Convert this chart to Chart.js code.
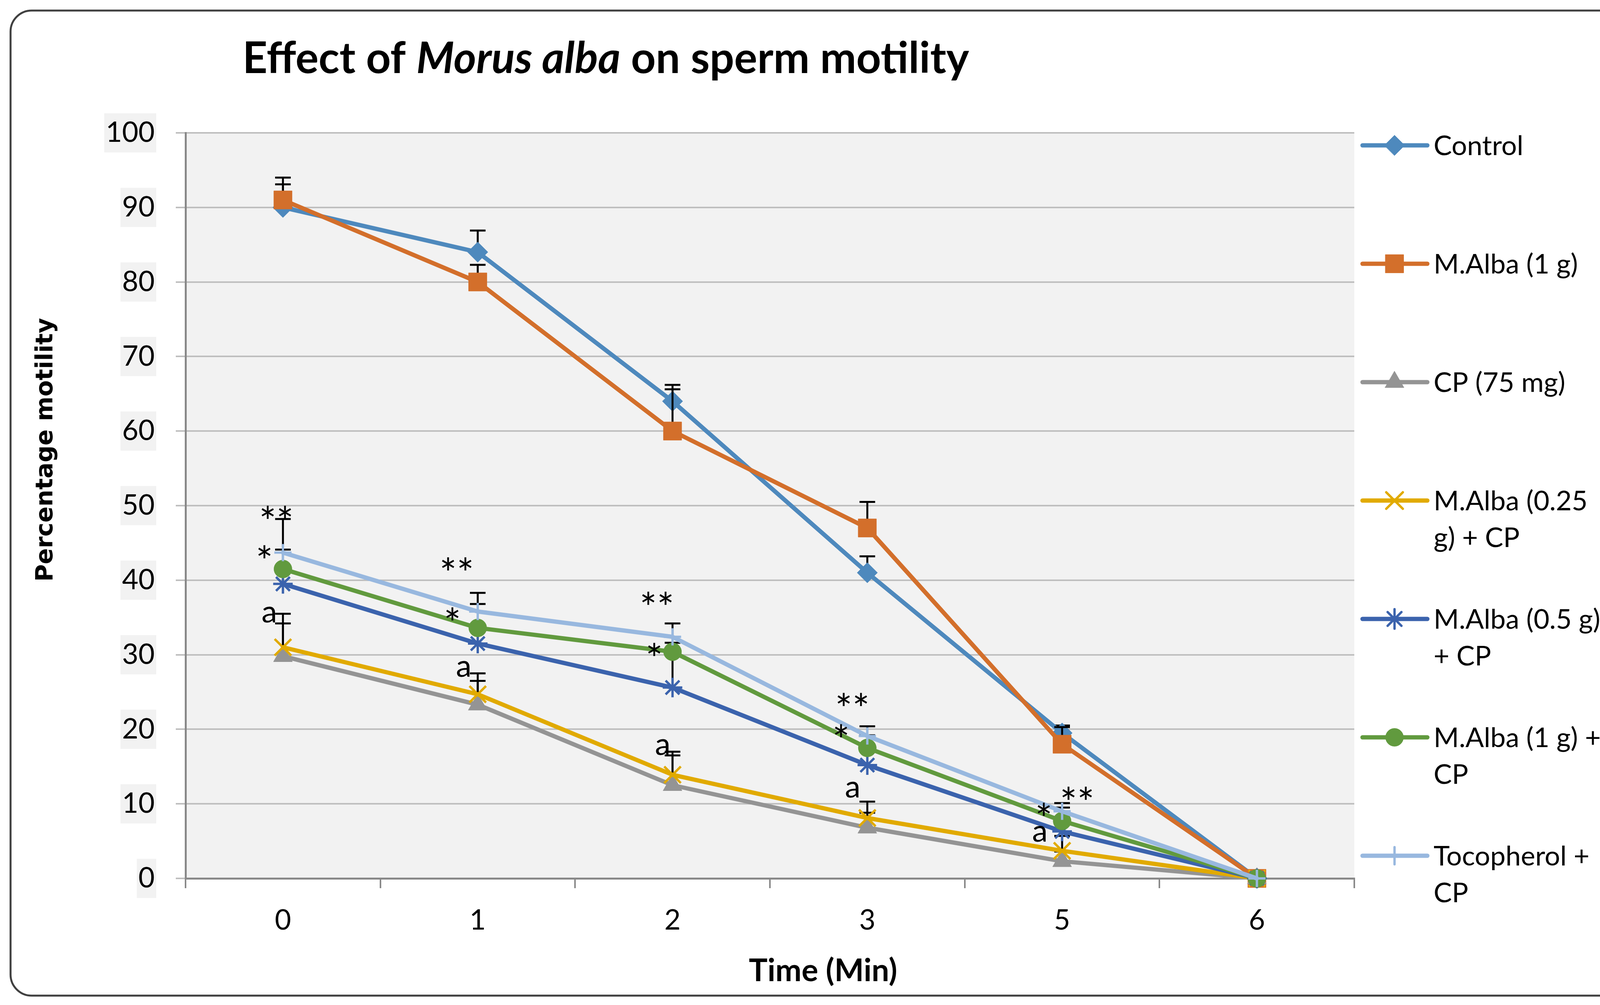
<!DOCTYPE html>
<html>
<head>
<meta charset="utf-8">
<script src="https://cdn.jsdelivr.net/npm/chart.js@4.4.1/dist/chart.umd.min.js"></script>
<style>
html, body { margin: 0; padding: 0; background: #fff; }
#wrap { width: 4198px; height: 2572px; }
</style>
</head>
<body>
<div id="wrap"><canvas id="chart-area" width="4198" height="2572"></canvas></div>
<script>
// categories (minutes)
var timeLabels = ['0', '1', '2', '3', '5', '6'];
var yTickValues = [0, 10, 20, 30, 40, 50, 60, 70, 80, 90, 100];

var seriesNames = ['Control', 'M.Alba (1 g)', 'CP (75 mg)', 'M.Alba (0.25 g) + CP',
                   'M.Alba (0.5 g) + CP', 'M.Alba (1 g) + CP', 'Tocopherol + CP'];
var legendLines = [['Control'], ['M.Alba (1 g)'], ['CP (75 mg)'], ['M.Alba (0.25', 'g) + CP'],
                   ['M.Alba (0.5 g)', '+ CP'], ['M.Alba (1 g) +', 'CP'], ['Tocopherol +', 'CP']];

// mean motility (%)
var controlValues  = [90, 84, 64, 41, 19.5, 0];
var alba1Values    = [91, 80, 60, 47, 18, 0];
var cpValues       = [29.8, 23.3, 12.5, 6.8, 2.3, 0];
var alba025Values  = [31, 24.7, 13.9, 8.1, 3.7, 0];
var alba05Values   = [39.5, 31.5, 25.6, 15.2, 6.3, 0];
var alba1cpValues  = [41.5, 33.6, 30.4, 17.5, 7.7, 0];
var tocoValues     = [43.7, 35.8, 32.4, 19.1, 9.0, 0];

// top of the error bars (null = none)
var controlErr  = [93.1, 86.9, 66.2, 43.2, 20.5, null];
var alba1Err    = [94.0, 82.3, 65.6, 50.5, 20.3, null];
var cpErr       = [34.2, 26.5, 16.5, 8.8, 3.6, null];
var alba025Err  = [35.5, 27.5, 17.0, 10.3, 5.7, null];
var alba05Err   = [null, null, 30.5, null, null, null];
var alba1cpErr  = [44.1, 36.8, 31.6, 19.2, 9.5, null];
var tocoErr     = [48.2, 38.3, 34.2, 20.4, 10.1, null];

// significance marks: text, category position, value
var markText  = ['**', '*', 'a', '**', '*', 'a', '**', '*', 'a', '**', '*', 'a', '**', '*', 'a'];
var markCat   = [-0.034, -0.095, -0.07, 0.892, 0.87, 0.928, 1.92, 1.906, 1.95, 2.923, 2.865, 2.925, 4.077, 3.906, 3.886];
var markValue = [49.1, 43.8, 35.4, 42.2, 35.5, 28.1, 37.6, 30.7, 17.6, 24.0, 19.8, 11.9, 11.4, 9.3, 6.0];

var seriesValues = [controlValues, alba1Values, cpValues, alba025Values, alba05Values, alba1cpValues, tocoValues];
var seriesErrors = [controlErr, alba1Err, cpErr, alba025Err, alba05Err, alba1cpErr, tocoErr];
var seriesColors = ['#4E89BD', '#D36F2B', '#949494', '#E1AA00', '#3B63AD', '#619A3E', '#98B8DF'];
var pointStyles  = ['rectRot', 'rect', 'triangle', 'crossRot', 'star', 'circle', 'cross'];
var pointRadii   = [26, 33, 28, 30, 25, 23, 22];
var pointBorders = [1, 1, 1, 6, 6, 1, 6];

var baseFont = 'Lato';

var datasets = seriesNames.map(function (name, i) {
  return {
    label: name,
    data: seriesValues[i],
    borderColor: seriesColors[i],
    backgroundColor: seriesColors[i],
    borderWidth: 11,
    borderJoinStyle: 'round',
    borderCapStyle: 'round',
    tension: 0,
    pointStyle: pointStyles[i],
    pointRadius: pointRadii[i],
    pointBorderWidth: pointBorders[i],
    pointBackgroundColor: seriesColors[i],
    pointBorderColor: seriesColors[i],
    clip: false,
    order: seriesNames.length - i
  };
});

function fitFont(ctx, style, family, text, width) {
  ctx.font = style + ' 100px ' + family;
  return 100 * width / ctx.measureText(text).width;
}

var decor = {
  id: 'decor',
  beforeDraw: function (chart) {
    var ctx = chart.ctx, a = chart.chartArea;
    ctx.save();
    ctx.fillStyle = '#fff';
    ctx.fillRect(0, 0, chart.width, chart.height);
    // outer rounded frame
    var x0 = 27, y0 = 27, x1 = 4171, y1 = 2548, r = 54;
    ctx.beginPath();
    ctx.moveTo(x0 + r, y0);
    ctx.arcTo(x1, y0, x1, y1, r);
    ctx.arcTo(x1, y1, x0, y1, r);
    ctx.arcTo(x0, y1, x0, y0, r);
    ctx.arcTo(x0, y0, x1, y0, r);
    ctx.closePath();
    ctx.lineWidth = 5;
    ctx.strokeStyle = '#404040';
    ctx.stroke();
    ctx.fillStyle = '#F2F2F2';
    ctx.fillRect(a.left, a.top, a.right - a.left, a.bottom - a.top);
    ctx.restore();
  },
  beforeDatasetDraw: function (chart, args) {
    var err = seriesErrors[args.index];
    var ys = chart.scales.y, ctx = chart.ctx;
    ctx.save();
    ctx.strokeStyle = '#000';
    ctx.lineWidth = 5;
    args.meta.data.forEach(function (pt, j) {
      if (err[j] === null) return;
      var yTop = ys.getPixelForValue(err[j]);
      ctx.beginPath();
      ctx.moveTo(pt.x, pt.y);
      ctx.lineTo(pt.x, yTop);
      ctx.moveTo(pt.x - 20, yTop);
      ctx.lineTo(pt.x + 20, yTop);
      ctx.stroke();
    });
    ctx.restore();
  },
  afterDatasetsDraw: function (chart) {
    var ctx = chart.ctx, xs = chart.scales.x, ys = chart.scales.y;
    var p0 = xs.getPixelForValue(0), p1 = xs.getPixelForValue(1);
    ctx.save();
    ctx.fillStyle = '#000';
    ctx.textAlign = 'center';
    ctx.textBaseline = 'alphabetic';
    markText.forEach(function (t, i) {
      ctx.font = (t === 'a' ? '80px ' : '104px ') + baseFont;
      var m = ctx.measureText(t);
      var cx = p0 + markCat[i] * (p1 - p0);
      var cy = ys.getPixelForValue(markValue[i]);
      ctx.fillText(t, cx, cy + (m.actualBoundingBoxAscent - m.actualBoundingBoxDescent) / 2);
    });
    ctx.restore();
  },
  afterDraw: function (chart) {
    var ctx = chart.ctx;
    ctx.save();
    ctx.fillStyle = '#000';
    ctx.textBaseline = 'alphabetic';
    ctx.textAlign = 'left';

    // title with italic species name
    var parts = [['Effect of ', 'bold'], ['Morus alba', 'italic bold'], [' on sperm motility', 'bold']];
    var w100 = 0;
    parts.forEach(function (p) { ctx.font = p[1] + ' 100px ' + baseFont; w100 += ctx.measureText(p[0]).width; });
    var size = 100 * 1860 / w100;
    var tx = 621;
    parts.forEach(function (p) {
      ctx.font = p[1] + ' ' + size + 'px ' + baseFont;
      ctx.fillText(p[0], tx, 187);
      tx += ctx.measureText(p[0]).width;
    });

    // x axis title
    var xt = 'Time (Min)';
    ctx.font = 'bold ' + fitFont(ctx, 'bold', baseFont, xt, 380) + 'px ' + baseFont;
    ctx.textAlign = 'center';
    ctx.fillText(xt, 2107, 2511);

    // y axis title
    var yt = 'Percentage motility';
    ctx.font = 'bold ' + fitFont(ctx, 'bold', '"DejaVu Sans"', yt, 675) + 'px "DejaVu Sans"';
    ctx.save();
    ctx.translate(134, 1151);
    ctx.rotate(-Math.PI / 2);
    ctx.fillText(yt, 0, 0);
    ctx.restore();

    // legend
    ctx.textAlign = 'left';
    ctx.font = '70px ' + baseFont;
    legendLines.forEach(function (lines, i) {
      var y = 372 + i * 303;
      ctx.strokeStyle = seriesColors[i];
      ctx.fillStyle = seriesColors[i];
      ctx.lineWidth = 11;
      ctx.lineCap = 'round';
      ctx.beginPath();
      ctx.moveTo(3488, y);
      ctx.lineTo(3654, y);
      ctx.stroke();
      ctx.lineWidth = pointBorders[i];
      Chart.helpers.drawPoint(ctx, {
        pointStyle: pointStyles[i], radius: pointRadii[i], rotation: 0, borderWidth: pointBorders[i]
      }, 3570, y);
      ctx.fillStyle = '#000';
      lines.forEach(function (ln, k) {
        ctx.fillText(ln, 3670, y + k * 94 + 25);
      });
    });
    ctx.restore();
  }
};

var config = {
  type: 'line',
  data: { labels: timeLabels, datasets: datasets },
  options: {
    responsive: false,
    animation: false,
    devicePixelRatio: 1,
    layout: { padding: { left: 0, top: 340, right: 731, bottom: 0 } },
    plugins: {
      legend: { display: false },
      title: { display: false },
      tooltip: { enabled: false }
    },
    scales: {
      x: {
        offset: true,
        grid: { offset: true, drawOnChartArea: false, drawTicks: true, tickLength: 25, color: '#898989', lineWidth: 4 },
        border: { display: true, color: '#898989', width: 5 },
        ticks: { font: { family: baseFont, size: 72 }, color: '#000', padding: 40, maxRotation: 0 },
        afterFit: function (s) { s.height = 324; }
      },
      y: {
        min: 0,
        max: 100,
        grid: { color: '#BFBFBF', lineWidth: 4, tickLength: 25, tickColor: '#BFBFBF' },
        border: { display: true, color: '#898989', width: 5 },
        ticks: {
          font: { family: baseFont, size: 72 }, color: '#000', padding: 54,
          showLabelBackdrop: true, backdropColor: '#F2F2F2', backdropPadding: { x: 4, y: 7 }
        },
        afterBuildTicks: function (s) { s.ticks = yTickValues.map(function (v) { return { value: v }; }); },
        afterFit: function (s) { s.width = 475; }
      }
    }
  },
  plugins: [decor]
};

window.onload = function () {
  var ctx = document.getElementById('chart-area').getContext('2d');
  window.myLine = new Chart(ctx, config);
};
</script>
</body>
</html>
